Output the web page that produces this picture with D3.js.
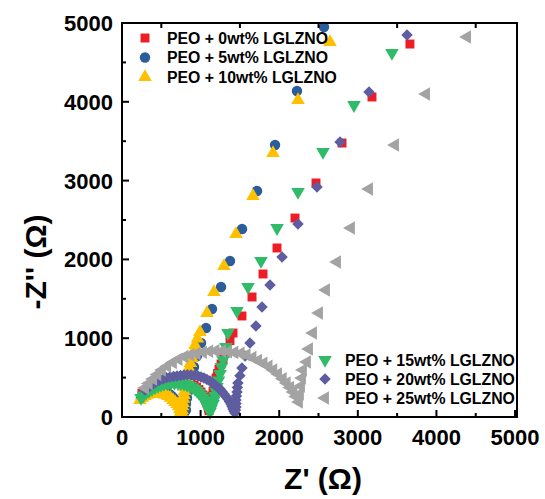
<!DOCTYPE html>
<html>
<head>
<meta charset="utf-8">
<script src="https://cdn.jsdelivr.net/npm/d3@7"></script>
<style>
  body { margin: 0; background: #fff; }
  svg { display: block; font-family: "Liberation Sans", Arial, sans-serif; }
</style>
</head>
<body>
<svg width="545" height="499"></svg>
<script>
// Nyquist data, Z' / -Z'' in ohm
const peo0 = [[254,300],[292,325],[331,350],[369,375],[407,395],[445,415],[483,430],[527,445],[572,455],[616,462],[661,465],[705,467],[750,465],[795,457],[840,445],[878,428],[916,405],[948,380],[979,350],[1005,317],[1030,280],[1050,245],[1068,210],[1082,175],[1094,140],[1100,110],[1107,80],
  [1112,120],[1119,165],[1132,215],[1145,266],[1158,325],[1170,381],[1183,440],[1196,495],[1215,552],[1234,609],[1260,672],[1285,736],[1310,806],[1336,876],[1374,970],[1412,1066],
  [1526,1282],[1654,1523],[1794,1815],[1972,2145],[2201,2525],[2468,2970],[2799,3477],[3180,4061],[3663,4733]]
const peo5 = [[240,230],[270,260],[300,285],[335,305],[370,320],[405,330],[440,335],[475,335],[510,330],[545,320],[580,305],[610,285],[640,260],[665,233],[690,205],[710,178],[730,150],[745,122],[760,95],[775,80],[795,60],
  [814,89],[814,165],[827,241],[839,330],[852,419],[878,520],[916,634],[954,774],[1005,939],[1069,1129],[1145,1371],[1260,1650],[1374,1980],[1527,2386],[1718,2868],[1947,3452],[2226,4137],[2570,4949]]
const peo10 = [[229,216],[260,243],[293,266],[325,280],[356,292],[394,300],[432,305],[470,300],[509,292],[547,280],[585,266],[617,242],[649,216],[675,190],[700,165],[720,135],[738,102],[745,70],[750,40],
  [757,60],[763,89],[770,135],[776,178],[783,230],[789,279],[795,330],[801,381],[814,440],[827,495],[840,560],[852,622],[870,685],[890,749],[910,830],[929,914],[960,995],[992,1079],
  [1081,1320],[1170,1586],[1297,1916],[1450,2322],[1666,2804],[1921,3350],[2239,4023],[2646,4759]]
const peo15 = [[242,241],[272,275],[305,305],[343,332],[382,355],[420,376],[458,393],[496,408],[534,419],[578,427],[623,431],[668,433],[712,431],[750,426],[789,419],[827,408],[865,393],[897,375],[929,355],[954,331],[979,305],[1005,274],[1030,241],[1050,210],[1068,178],[1082,146],[1094,114],[1107,88],[1119,63],
  [1135,110],[1158,165],[1170,215],[1183,266],[1195,325],[1208,381],[1228,465],[1247,546],[1265,635],[1285,723],[1323,888],[1348,1066],
  [1463,1345],[1603,1650],[1768,1980],[1972,2398],[2239,2855],[2557,3363],[2951,3959],[3434,4619]]
const peo20 = [[293,343],[325,368],[356,393],[395,420],[432,444],[477,465],[522,482],[566,497],[611,508],[655,515],[700,520],[745,528],[789,533],[833,535],[878,533],[922,528],[967,520],[1005,508],[1043,495],[1081,477],[1119,457],[1150,432],[1183,406],[1215,380],[1247,355],[1272,323],[1297,292],[1322,260],[1348,228],[1367,196],[1386,165],[1400,133],[1412,102],[1425,76],[1437,51],
  [1443,90],[1450,127],[1450,170],[1450,216],[1456,265],[1463,317],[1468,375],[1475,431],[1500,525],[1526,622],[1565,774],[1628,939],[1704,1155],[1781,1396],[1883,1675],
  [2036,2030],[2239,2449],[2481,2919],[2774,3490],[3142,4124],[3626,4848]]
const peo25 = [[293,368],[340,425],[395,482],[450,540],[509,596],[575,645],[648,692],[720,733],[795,766],[870,788],[950,804],[1030,822],[1110,834],[1190,840],[1272,838],[1350,829],[1430,820],[1510,808],[1585,786],[1660,755],[1730,717],[1800,682],[1865,642],[1925,595],[1985,545],[2045,485],[2095,430],[2140,375],[2180,318],[2215,260],[2251,190],
  [2264,292],[2277,393],[2290,495],[2302,596],[2353,698],[2379,863],[2430,1066],[2506,1320],[2595,1612],[2735,1967],[2913,2398],[3142,2893],[3473,3452],[3868,4099],[4389,4822]]

const seriesNames = ["PEO + 0wt% LGLZNO", "PEO + 5wt% LGLZNO", "PEO + 10wt% LGLZNO",
                     "PEO + 15wt% LGLZNO", "PEO + 20wt% LGLZNO", "PEO + 25wt% LGLZNO"]
const seriesData = [peo0, peo5, peo10, peo15, peo20, peo25]
const seriesColors = ["#ee1c25", "#2b5c9c", "#ffc000", "#2fbb68", "#5d5d9f", "#a3a3a3"]
const seriesShapes = ["square", "circle", "up", "down", "diamond", "left"]

const xTicks = [0, 1000, 2000, 3000, 4000, 5000]
const yTicks = [0, 1000, 2000, 3000, 4000, 5000]
const minorTicks = [500, 1500, 2500, 3500, 4500]

const svg = d3.select("svg")
const x = d3.scaleLinear().domain([0, 5025]).range([122, 517])
const y = d3.scaleLinear().domain([0, 5000]).range([417, 23])

// marker shapes
const symbolFor = {
  square:  { type: d3.symbolSquare,   size: 80, rot: 0 },
  circle:  { type: d3.symbolCircle,   size: 85, rot: 0 },
  up:      { type: d3.symbolTriangle, size: 80, rot: 0 },
  down:    { type: d3.symbolTriangle, size: 80, rot: 180 },
  diamond: { type: d3.symbolSquare,   size: 66, rot: 45 },
  left:    { type: d3.symbolTriangle, size: 80, rot: -90 }
}
function marker(sel, shape, color) {
  const s = symbolFor[shape]
  sel.append("path")
    .attr("d", d3.symbol().type(s.type).size(s.size))
    .attr("transform", d => `translate(${d.px},${d.py}) rotate(${s.rot})`)
    .attr("fill", color)
}

// points
seriesData.forEach((data, i) => {
  const g = svg.append("g").attr("class", "series")
  const pts = data.map(p => ({ px: x(p[0]), py: y(p[1]) }))
  g.selectAll("g").data(pts).join("g").call(marker, seriesShapes[i], seriesColors[i])
})

// frame
svg.append("rect")
  .attr("x", 122).attr("y", 23)
  .attr("width", 517 - 122).attr("height", 417 - 23)
  .attr("fill", "none").attr("stroke", "#000").attr("stroke-width", 2)

// ticks
const tk = svg.append("g").attr("stroke", "#000").attr("stroke-width", 2)
xTicks.forEach(v => tk.append("line").attr("x1", x(v)).attr("x2", x(v)).attr("y1", 417).attr("y2", 410))
minorTicks.forEach(v => tk.append("line").attr("x1", x(v)).attr("x2", x(v)).attr("y1", 417).attr("y2", 413))
minorTicks.forEach(v => tk.append("line").attr("x1", x(v)).attr("x2", x(v)).attr("y1", 23).attr("y2", 28))
yTicks.forEach(v => tk.append("line").attr("x1", 122).attr("x2", 129).attr("y1", y(v)).attr("y2", y(v)))
minorTicks.forEach(v => tk.append("line").attr("x1", 122).attr("x2", 126).attr("y1", y(v)).attr("y2", y(v)))

// tick labels
svg.append("g").selectAll("text").data(xTicks).join("text")
  .attr("x", d => x(d)).attr("y", 445)
  .attr("text-anchor", "middle")
  .attr("font-size", 22).attr("font-weight", "bold")
  .text(d => d)
svg.append("g").selectAll("text").data(yTicks).join("text")
  .attr("x", 113).attr("y", d => y(d) + 8)
  .attr("text-anchor", "end")
  .attr("font-size", 22).attr("font-weight", "bold")
  .text(d => d)

// axis titles
svg.append("text")
  .attr("x", 323).attr("y", 489)
  .attr("text-anchor", "middle")
  .attr("font-size", 30).attr("font-weight", "bold")
  .text("Z' (\u03A9)")
svg.append("text")
  .attr("transform", "translate(46,262) rotate(-90)")
  .attr("text-anchor", "middle")
  .attr("font-size", 30).attr("font-weight", "bold")
  .text("-Z'' (\u03A9)")

// legends
function legend(idx, mx, tx, y0, dy) {
  idx.forEach((i, k) => {
    const yy = y0 + k * dy
    svg.append("g").selectAll("g").data([{ px: mx, py: yy }]).join("g")
      .call(marker, seriesShapes[i], seriesColors[i])
    svg.append("text")
      .attr("x", tx).attr("y", yy + 5.5)
      .attr("font-size", 15.8).attr("font-weight", "bold")
      .text(seriesNames[i])
  })
}
legend([0, 1, 2], 145, 167, 38, 19.5)
legend([3, 4, 5], 325, 345, 360, 19)
</script>
</body>
</html>
